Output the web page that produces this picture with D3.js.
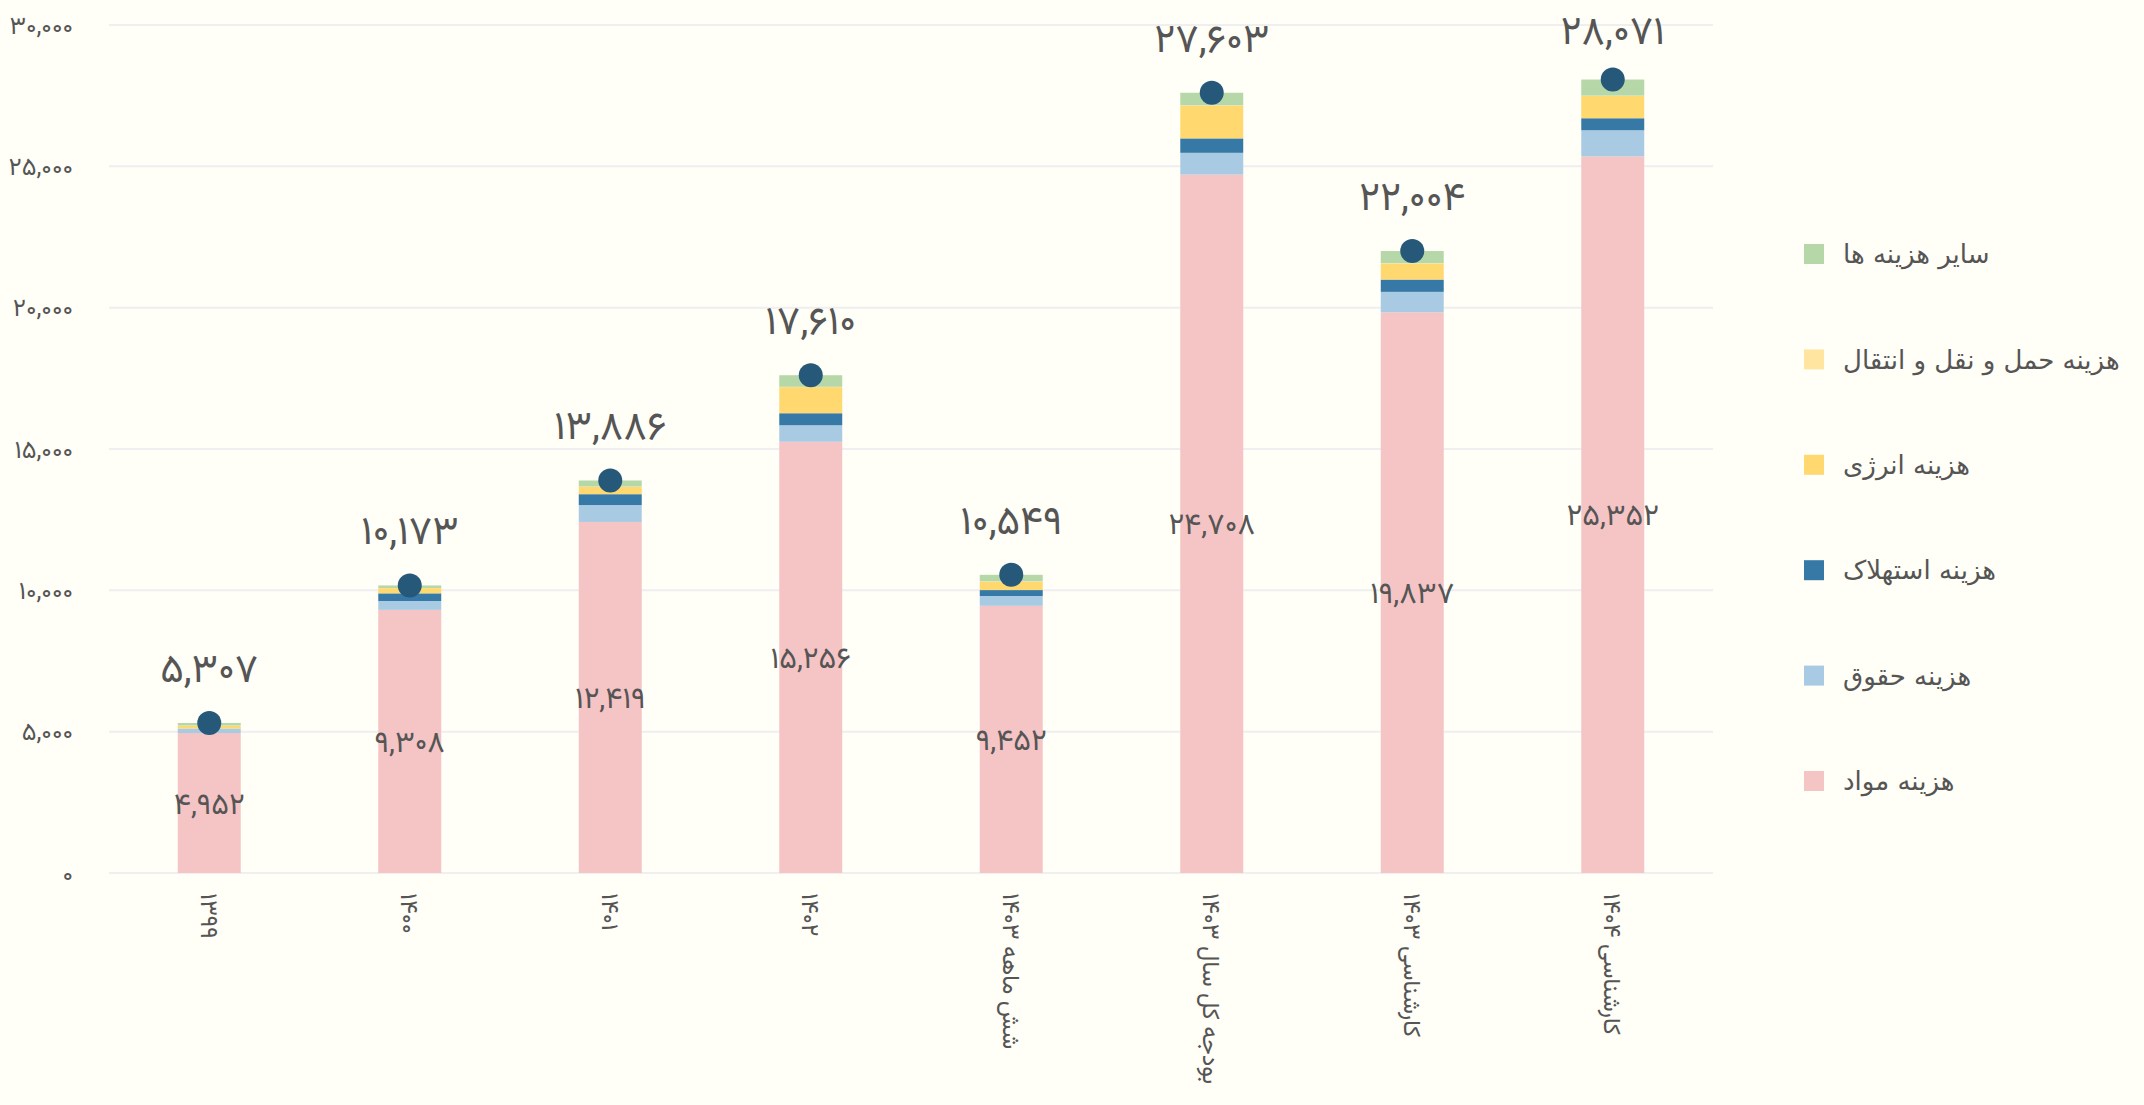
<!DOCTYPE html>
<html>
<head>
<meta charset="utf-8">
<script src="https://cdn.jsdelivr.net/npm/d3@7"></script>
<style>
  html, body { margin: 0; padding: 0; background: #fffef7; }
  svg { display: block; font-family: "DejaVu Sans", sans-serif; }
  .num { font-family: "Vazirmatn", "Vazir", "Noto Sans Arabic", "Noto Naskh Arabic", "Noto Kufi Arabic", "DejaVu Sans", sans-serif; }
</style>
</head>
<body>
<svg id="chart" width="2144" height="1105"></svg>
<script>
// ---- data ----
const categories = ["۱۳۹۹", "۱۴۰۰", "۱۴۰۱", "۱۴۰۲", "شش ماهه ۱۴۰۳", "بودجه کل سال ۱۴۰۳", "کارشناسی ۱۴۰۳", "کارشناسی ۱۴۰۴"];
const materials    = [4952, 9308, 12419, 15256, 9452, 24708, 19837, 25352];
const salaries     = [160, 315, 597, 584, 347, 770, 722, 924];
const depreciation = [0, 270, 385, 425, 210, 510, 435, 425];
const energy       = [100, 185, 260, 925, 300, 1160, 570, 790];
const transport    = [5, 5, 10, 10, 8, 10, 10, 10];
const otherCosts   = [90, 90, 215, 410, 232, 445, 430, 570];
const totals       = [5307, 10173, 13886, 17610, 10549, 27603, 22004, 28071];
const seriesNames  = ["هزینه مواد", "هزینه حقوق", "هزینه استهلاک", "هزینه انرژی", "هزینه حمل و نقل و انتقال", "سایر هزینه ها"];
const seriesColors = ["#f5c4c5", "#a8cbe3", "#3679a7", "#ffd86f", "#ffe5a0", "#b6d8a9"];
const yTicks = [0, 5000, 10000, 15000, 20000, 25000, 30000];

// ---- helpers ----
const faDigits = "۰۱۲۳۴۵۶۷۸۹";
function fa(n) {
  return d3.format(",")(n).replace(/[0-9]/g, d => faDigits[+d]);
}

const svg = d3.select("#chart");
const plot = { left: 109, right: 1713, top: 25, bottom: 873 };

const x = d3.scaleBand().domain(categories)
  .range([plot.left, plot.right]).paddingInner(0.686).paddingOuter(0.343);
const y = d3.scaleLinear().domain([0, 30000]).range([plot.bottom, plot.top]);

// gridlines
svg.append("g").selectAll("line").data(yTicks).join("line")
  .attr("x1", plot.left).attr("x2", plot.right)
  .attr("y1", d => y(d)).attr("y2", d => y(d))
  .attr("stroke", "#efeef0").attr("stroke-width", 2);

// y axis labels
const yAxis = d3.axisLeft(y).tickValues(yTicks).tickFormat(fa).tickSize(0).tickPadding(0);
const yg = svg.append("g").attr("transform", `translate(73,0)`).call(yAxis);
yg.select(".domain").remove();
yg.selectAll("text").attr("class", "num").attr("font-size", 25).attr("fill", "#555").attr("font-family", null);

// stacked data
const table = categories.map((c, i) => ({
  cat: c, s0: materials[i], s1: salaries[i], s2: depreciation[i],
  s3: energy[i], s4: transport[i], s5: otherCosts[i]
}));
const keys = ["s0", "s1", "s2", "s3", "s4", "s5"];
const stack = d3.stack().keys(keys)(table);

svg.append("g").selectAll("g").data(stack).join("g")
  .attr("fill", (d, i) => seriesColors[i])
  .selectAll("rect").data(d => d).join("rect")
  .attr("x", d => x(d.data.cat))
  .attr("width", x.bandwidth())
  .attr("y", d => y(d[1]))
  .attr("height", d => y(d[0]) - y(d[1]));

// materials labels
svg.append("g").selectAll("text").data(categories).join("text")
  .attr("class", "num")
  .attr("x", d => x(d) + x.bandwidth() / 2)
  .attr("y", (d, i) => (y(0) + y(materials[i])) / 2)
  .attr("dy", "0.35em")
  .attr("text-anchor", "middle")
  .attr("font-size", 30)
  .attr("fill", "#555")
  .text((d, i) => fa(materials[i]));

// total dots
svg.append("g").selectAll("circle").data(categories).join("circle")
  .attr("cx", d => x(d) + x.bandwidth() / 2)
  .attr("cy", (d, i) => y(totals[i]))
  .attr("r", 12)
  .attr("fill", "#26587a");

// total labels
svg.append("g").selectAll("text").data(categories).join("text")
  .attr("class", "num")
  .attr("x", d => x(d) + x.bandwidth() / 2)
  .attr("y", (d, i) => Math.max(y(totals[i]) - 55, 30))
  .attr("dy", "0.35em")
  .attr("text-anchor", "middle")
  .attr("font-size", 40)
  .attr("fill", "#555")
  .text((d, i) => fa(totals[i]));

// x labels (rotated)
const xAxis = d3.axisBottom(x).tickSize(0).tickPadding(0);
const xg = svg.append("g").attr("transform", `translate(0,${plot.bottom})`).call(xAxis);
xg.select(".domain").remove();
xg.selectAll("text")
  .attr("class", "num")
  .attr("font-size", 24).attr("fill", "#555").attr("font-family", null)
  .attr("text-anchor", "start")
  .attr("y", 0).attr("dy", "0.35em")
  .attr("transform", "translate(0,20) rotate(90)");

// legend
const legendOrder = [5, 4, 3, 2, 1, 0];
const lg = svg.append("g").selectAll("g").data(legendOrder).join("g")
  .attr("transform", (d, i) => `translate(1804, ${254 + i * 105.4})`);
lg.append("rect").attr("x", 0).attr("y", -10).attr("width", 20).attr("height", 20)
  .attr("fill", d => seriesColors[d]);
lg.append("text").attr("x", 39).attr("y", 0).attr("dy", "0.35em")
  .attr("font-size", 26).attr("fill", "#555")
  .text(d => seriesNames[d]);
</script>
</body>
</html>
